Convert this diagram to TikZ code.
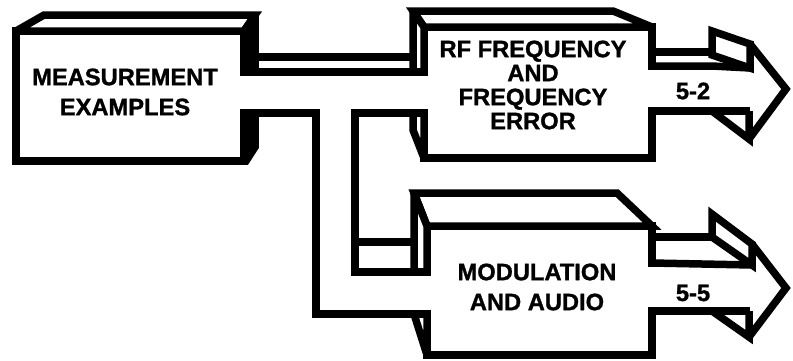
\documentclass[tikz,border=0pt]{standalone}
\usepackage{fontspec}
\setmainfont{Liberation Sans}[BoldFont={Liberation Sans Bold}, BoldFeatures={FakeBold=1.2}]
\tikzset{
  ln/.style={line width=7.5pt, line join=miter, miter limit=3, line cap=butt, draw=black},
  face/.style={ln, fill=white},
  sideblk/.style={ln, fill=black},
  erase/.style={fill=white, draw=none},
  lbl/.style={font=\fontsize{23.7}{30}\selectfont\bfseries, inner sep=0pt, align=center},
}
\begin{document}
\begin{tikzpicture}[x=1pt,y=-1pt]
\useasboundingbox (0,0) rectangle (793,360);
\fill[white] (0,0) rectangle (793,360);
% MEASUREMENT box
\path[face] (16,31) rectangle (244,161);
\path[face] (16,31) -- (44,15) -- (255,15) -- (244,31) -- cycle;
\path[sideblk] (244,31) -- (255,15) -- (255,147) -- (246,161) -- (244,161) -- cycle;
% RF box
\path[face] (424,27) rectangle (652,158);
\path[face] (413,11) -- (613,11) -- (652,27) -- (424,27) -- cycle;
\path[face] (413,11) -- (424,27) -- (424,158) -- (413,130) -- cycle;
% MODULATION box
\path[face] (427,226) rectangle (652,355);
\path[face] (414,193) -- (617,193) -- (652,226) -- (427,226) -- cycle;
\path[face] (414,193) -- (427,226) -- (427,355) -- (414,314) -- cycle;
% openings where ducts join boxes
\path[erase] (238,76) rectangle (432,109);
\path[erase] (408,276) rectangle (433,310);
\path[erase] (645,70) rectangle (660,107);
\path[erase] (645,267) rectangle (660,307);
% ducts
\draw[ln] (250,57) -- (413,57);
\draw[ln] (250,72) -- (424,72);
\draw[ln] (244,113) -- (316,113) -- (316,314) -- (427,314);
\draw[ln] (424,113) -- (355,113) -- (355,272) -- (427,272);
\draw[ln] (355,242) -- (414,242);
% RF exit arrow
\draw[ln] (652,52) -- (712,52);
\draw[ln] (652,66) -- (712,66) -- (750,68);
\draw[ln] (652,111) -- (750,111);
\path[face] (712,31) -- (750,44) -- (750,68) -- (712,55) -- cycle;
\draw[ln] (750,44) -- (786,89) -- (749,139);
\draw[ln] (712,111) -- (749,139) -- (749,111);
% MOD exit arrow
\draw[ln] (652,237) -- (712,237);
\draw[ln] (652,263) -- (752,265);
\draw[ln] (652,311) -- (750,311);
\path[face] (712,214) -- (752,244) -- (752,265) -- (712,237) -- cycle;
\draw[ln] (752,244) -- (786,288) -- (749,337);
\draw[ln] (712,311) -- (749,337) -- (749,311);
% texts
\node[lbl] (meas) at (125,92) {MEASUREMENT\\EXAMPLES};
\node[lbl, font=\fontsize{23.7}{24}\selectfont\bfseries] (rf) at (533,85) {RF FREQUENCY\\AND\\FREQUENCY\\ERROR};
\node[lbl] (mod) at (537,287) {MODULATION\\AND AUDIO};
\node[lbl] (p52) at (693,91) {5-2};
\node[lbl] (p55) at (693,293) {5-5};
\end{tikzpicture}
\end{document}
